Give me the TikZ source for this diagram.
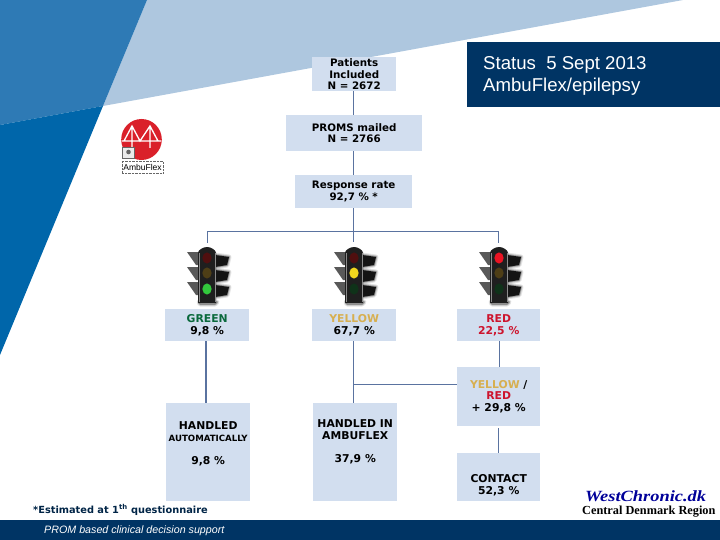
\documentclass[tikz,border=0pt]{standalone}
\usepackage{fontspec}
\setmainfont{DejaVu Sans}
\newfontfamily\titlefont{Liberation Sans}
\newfontfamily\brandfont[FakeStretch=1.18]{Liberation Serif}
\newfontfamily\regionfont{Liberation Serif}
\definecolor{boxblue}{RGB}{210,222,239}
\definecolor{navy}{RGB}{0,52,100}
\definecolor{wedgelight}{RGB}{174,199,223}
\definecolor{stripeup}{RGB}{46,122,181}
\definecolor{stripelow}{RGB}{0,102,170}
\definecolor{linkblue}{RGB}{90,115,160}
\definecolor{okgreen}{RGB}{10,105,60}
\definecolor{warnyellow}{RGB}{215,175,80}
\definecolor{alertred}{RGB}{205,20,45}
\definecolor{logored}{RGB}{218,32,42}
\definecolor{dimred}{RGB}{80,15,15}
\definecolor{dimyellow}{RGB}{78,62,22}
\definecolor{dimgreen}{RGB}{15,50,25}
\definecolor{litred}{RGB}{235,20,35}
\definecolor{lityellow}{RGB}{240,215,30}
\definecolor{litgreen}{RGB}{50,200,60}
\tikzset{
  flowbox/.style={fill=boxblue, inner sep=0pt, align=center, font=\bfseries\fontsize{10.3}{11.8}\selectfont, anchor=north west},
  lowbox/.style={flowbox, font=\bfseries\fontsize{10.8}{11.8}\selectfont},
  link/.style={draw=linkblue, line width=1pt},
  lamp/.style={x radius=4.6, y radius=5.6},
}
% one traffic light, lamp colours from top to bottom
\newcommand{\trafficlight}[4]{%
  \begin{scope}[shift={(#1,247)}]
    % soft shadow round the visors
    \foreach \lw/\op in {5/.10, 3/.16, 1.5/.25} {
      \foreach \ly in {6,21,36} {
        \draw[black, opacity=\op, line width=\lw pt, line join=round] (8,\ly+2) -- (22,\ly+4) -- (20,\ly+12) -- (8,\ly+14) -- cycle;
      }
      \draw[black, opacity=\op, line width=\lw pt, line join=round] (-8,55) -- (10,55) -- (8,57) -- (-7,57) -- cycle;
    }
    \foreach \ly in {6,21,36} {
      \fill[black!92] (8,\ly+2) -- (22,\ly+4) -- (20,\ly+12) -- (8,\ly+14) -- cycle;
    }
    \foreach \ly in {5,20,35} {
      \fill[black!65] (-20,\ly) -- (-8,\ly) -- (-8,\ly+13) -- (-11,\ly+13) -- cycle;
    }
    \fill[black!88] (-9,6) .. controls (-9,3) and (-4,0) .. (0,0) .. controls (4,0) and (9,3) .. (9,6) -- (9,56) -- (-9,56) -- cycle;
    \draw[black!45, line width=.8pt] (-8,6) -- (-8,55) (8,6) -- (8,55);
    \fill[#2] (0,11) circle[lamp];
    \fill[#3] (0,26) circle[lamp];
    \fill[#4] (0,42) circle[lamp];
  \end{scope}
}
\begin{document}
\begin{tikzpicture}[x=1pt, y=-1pt]
  \useasboundingbox (0,0) rectangle (720,540);
  % Background wedges
  \fill[wedgelight] (147,0) -- (683,0) -- (103,106) -- cycle;
  \fill[stripeup] (0,0) -- (147,0) -- (103,106) -- (0,125) -- cycle;
  \fill[stripelow] (0,125) -- (103,106) -- (0,355) -- cycle;
  % Title and footer
  \fill[navy] (467,42) rectangle (720,107);
  \fill[navy] (0,520) rectangle (720,540);
  \node[anchor=west, text=white, align=left, inner sep=0pt, font=\titlefont\fontsize{18.6}{21.5}\selectfont] (title) at (483,76) {Status\ \ 5 Sept 2013\\AmbuFlex/epilepsy};
  \node[anchor=west, text=white, inner sep=0pt, font=\titlefont\itshape\fontsize{10.7}{12}\selectfont] (footer) at (44,531) {PROM based clinical decision support};
  % Logo
  \fill[logored] (141.5,139.5) ellipse[x radius=20.3, y radius=20.5];
  \draw[white, line width=1.3pt] (122,141) -- (161,141)
    (132,126) -- (132,148) (150,126) -- (150,148)
    (124,141) -- (132,126) -- (140,141) -- (150,126) -- (158,141);
  \fill[black!8] (122,147) rectangle (134.5,158);
  \draw[black!60, line width=.5pt] (122,147) rectangle (134.5,158);
  \fill[black!60] (128.5,152) circle[radius=2.3];
  \node[draw=black!60, densely dotted, line width=.4pt, minimum width=41pt, minimum height=12pt, inner sep=0pt, font=\titlefont\fontsize{8.5}{9}\selectfont] (logotext) at (142.5,167) {AmbuFlex};
  % Upper boxes
  \node[flowbox, minimum width=84pt, minimum height=34pt] (patients) at (312,57) {Patients\\Included\\N = 2672};
  \node[flowbox, minimum width=136pt, minimum height=36pt] (proms) at (286,115) {PROMS mailed\\N = 2766};
  \node[flowbox, minimum width=117pt, minimum height=33pt] (response) at (295,175) {Response rate\\92,7 \% *};
  % Traffic lights
  \trafficlight{207}{dimred}{dimyellow}{litgreen}
  \trafficlight{354}{dimred}{lityellow}{dimgreen}
  \trafficlight{499}{litred}{dimyellow}{dimgreen}
  % Colour boxes
  \node[lowbox, minimum width=84pt, minimum height=32pt] (green) at (165,309) {\textcolor{okgreen}{GREEN}\\9,8 \%};
  \node[lowbox, minimum width=84pt, minimum height=32pt] (yellow) at (312,309) {\textcolor{warnyellow}{YELLOW}\\67,7 \%};
  \node[lowbox, minimum width=83pt, minimum height=32pt] (red) at (457,309) {\textcolor{alertred}{RED}\\\textcolor{alertred}{22,5 \%}};
  \node[lowbox, minimum width=83pt, minimum height=59pt] (mixed) at (457,367) {\textcolor{warnyellow}{YELLOW} /\\\textcolor{alertred}{RED}\\+ 29,8 \%};
  % Lower boxes
  \node[lowbox, minimum width=84pt, minimum height=98pt] (auto) at (166,403) {HANDLED\\{\fontsize{8.6}{11.8}\selectfont AUTOMATICALLY}\\[11.2pt]9,8 \%\\[7.2pt]\ };
  \node[lowbox, minimum width=84pt, minimum height=98pt] (ambu) at (313,403) {HANDLED IN\\AMBUFLEX\\[11.2pt]37,9 \%\\[11.2pt]\ };
  \node[lowbox, minimum width=83pt, minimum height=48pt] (contact) at (457,453) {\ \\[12.2pt]CONTACT\\52,3 \%};
  % Connectors
  \coordinate (forkup) at (353.5,231.5);
  \coordinate (forkleft) at (207.5,231.5);
  \coordinate (forkright) at (498.5,231.5);
  \coordinate (forkmid) at (353.5,242);
  \coordinate (leftend) at (207.5,243);
  \coordinate (rightend) at (498.5,243);
  \coordinate (midjoin) at (353.5,384.5);
  \draw[link] (patients.south -| forkup) -- (proms.north -| forkup);
  \draw[link] (proms.south -| forkup) -- (response.north -| forkup);
  \draw[link] (response.south -| forkup) -- (forkmid);
  \draw[link, line width=1.3pt] (leftend) -- (forkleft) -- (forkright) -- (rightend);
  \draw[link, line width=1.5pt] (green.south -| 205.75,0) -- (auto.north -| 205.75,0);
  \draw[link] (yellow.south -| forkup) -- (ambu.north -| forkup);
  \draw[link] (red.south -| 499.5,0) -- (mixed.north -| 499.5,0);
  \draw[link] (midjoin) -- (mixed.west |- midjoin);
  \draw[link] (mixed.south -| 498.5,0) ++(0,2) -- (contact.north -| 498.5,0);
  % Foot notes
  \node[anchor=west, inner sep=0pt, text=navy!70!black, font=\bfseries\fontsize{9.8}{11}\selectfont] (note) at (33,510) {*Estimated at 1\textsuperscript{th} questionnaire};
  \node[anchor=west, inner sep=0pt, text=blue!60!black, font=\brandfont\bfseries\itshape\fontsize{15.6}{18}\selectfont] (brand) at (585,496) {WestChronic.dk};
  \node[anchor=west, inner sep=0pt, font=\regionfont\bfseries\fontsize{12.3}{14}\selectfont] (region) at (582,512) {Central Denmark Region};
\end{tikzpicture}
\end{document}
